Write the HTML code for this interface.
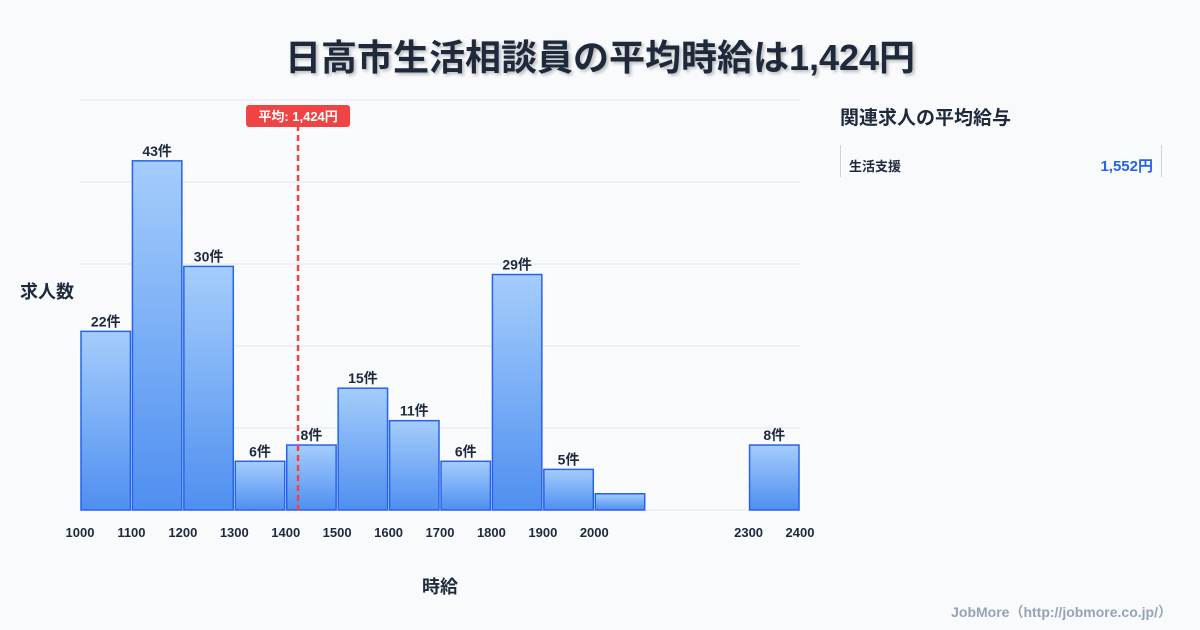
<!DOCTYPE html>
<html><head><meta charset="utf-8">
<style>
body{margin:0;width:1200px;height:630px;background:#f8fafc;font-family:"Liberation Sans","Noto Sans CJK JP",sans-serif;color:#1e293b;position:relative;overflow:hidden}
.title{position:absolute;top:29px;left:0;width:1200px;text-align:center;font-size:36px;font-weight:bold;text-shadow:2px 2px 3px rgba(0,0,0,.25)}
.side{position:absolute;left:840px;top:103px;font-size:19px;font-weight:bold}
.row{position:absolute;left:840px;top:145px;width:320px;height:32px;border-left:1px solid #cbd5e1;border-right:1px solid #cbd5e1}
.row .n{position:absolute;left:8px;top:11px;font-size:13px;font-weight:bold}
.row .v{position:absolute;right:8px;top:10px;font-size:15px;font-weight:bold;color:#2563eb}
.foot{position:absolute;right:28px;top:602px;font-size:14px;color:#94a3b8;font-weight:bold}
</style></head><body>
<div class="title">日高市生活相談員の平均時給は1,424円</div>
<div class="side">関連求人の平均給与</div>
<div class="row"><span class="n">生活支援</span><span class="v">1,552円</span></div>
<div class="foot">JobMore（http://jobmore.co.jp/）</div>
<svg id="c" width="1200" height="630" style="position:absolute;left:0;top:0">
<defs><linearGradient id="g" x1="0" y1="0" x2="0" y2="1"><stop offset="0" stop-color="#a5cdfc"/><stop offset="1" stop-color="#4f8ff0"/></linearGradient></defs>
</svg>
<script>
const binStarts=[1000,1100,1200,1300,1400,1500,1600,1700,1800,1900,2000,2300];
const counts=[22,43,30,6,8,15,11,6,29,5,2,8];
const showLabel=[1,1,1,1,1,1,1,1,1,1,0,1];
const xTicks=[1000,1100,1200,1300,1400,1500,1600,1700,1800,1900,2000,2300,2400];
const gridCount=5;
const avg=1424;
const svg=document.getElementById('c');const NS='http://www.w3.org/2000/svg';
const x=v=>80+(v-1000)*720/1400;
const y=v=>510-v*8.12;
function mk(t,a){const e=document.createElementNS(NS,t);for(const k in a)e.setAttribute(k,a[k]);svg.appendChild(e);return e;}
for(let i=0;i<=gridCount;i++){const gy=510-i*410/gridCount;const l=mk('line',{x1:80,x2:800,y1:gy,y2:gy,stroke:'#e2e8f0','stroke-width':1});

}
binStarts.forEach((b,i)=>{
const r=mk('rect',{x:x(b)+1,y:y(counts[i]),width:x(b+100)-x(b)-2,height:y(0)-y(counts[i]),fill:'url(#g)',stroke:'#2563eb','stroke-width':1.5});


if(showLabel[i]){const t=mk('text',{x:(x(b)+x(b+100))/2,y:y(counts[i])-5,'text-anchor':'middle','font-size':14,'font-weight':'bold',fill:'#1e293b'});t.textContent=counts[i]+'件';

}
});
xTicks.forEach(v=>{const t=mk('text',{x:x(v),y:537,'text-anchor':'middle','font-size':13,'font-weight':'bold',fill:'#1e293b'});t.textContent=v;

});
const al=mk('line',{x1:x(avg),x2:x(avg),y1:125,y2:510,stroke:'#ef4444','stroke-width':2.5,'stroke-dasharray':'6,4'});


const ab=mk('rect',{x:x(avg)-52,y:105,width:104,height:22,rx:3,fill:'#ef4444'});


const at=mk('text',{x:x(avg),y:121,'text-anchor':'middle','font-size':13,'font-weight':'bold',fill:'#fff'});at.textContent='平均: 1,424円';


const yt=mk('text',{x:20,y:298,'font-size':18,'font-weight':'bold',fill:'#1e293b'});yt.textContent='求人数';


const xt=mk('text',{x:440,y:593,'text-anchor':'middle','font-size':18,'font-weight':'bold',fill:'#1e293b'});xt.textContent='時給';


</script>
</body></html>
